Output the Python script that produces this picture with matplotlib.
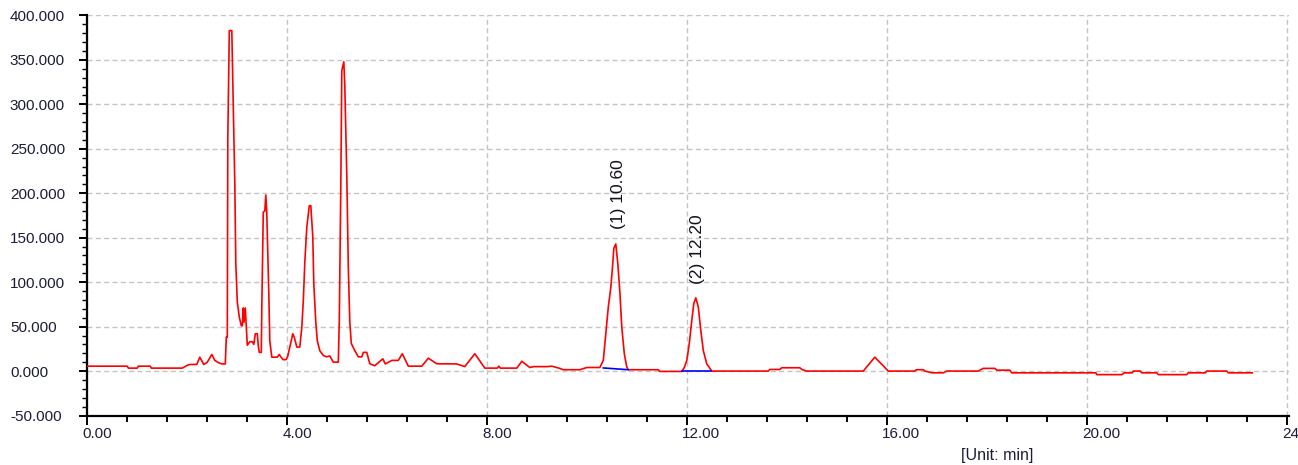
import matplotlib
matplotlib.use("Agg")
import matplotlib.pyplot as plt
from matplotlib.ticker import MultipleLocator, FixedLocator
from matplotlib.transforms import ScaledTranslation

# ---- data (retention time [min], signal) ----
time_min = [
    0.00, 0.80, 0.82, 1.00, 1.02, 1.26, 1.28, 1.90, 2.00, 2.05, 2.19, 2.25, 2.33, 2.40, 2.49, 2.55,
    2.62, 2.69, 2.76, 2.78, 2.80, 2.81, 2.84, 2.89, 2.91, 2.95, 2.97, 3.00, 3.04, 3.08, 3.10, 3.12,
    3.135, 3.16, 3.18, 3.20, 3.25, 3.30, 3.33, 3.36, 3.40, 3.42, 3.44, 3.48, 3.49, 3.52, 3.55, 3.57,
    3.59, 3.63, 3.65, 3.69, 3.80, 3.84, 3.87, 3.92, 3.98, 4.01, 4.05, 4.11, 4.14, 4.19, 4.25, 4.29,
    4.32, 4.35, 4.39, 4.44, 4.47, 4.51, 4.53, 4.57, 4.60, 4.65, 4.72, 4.79, 4.85, 4.92, 5.02, 5.04,
    5.07, 5.09, 5.13, 5.15, 5.19, 5.22, 5.25, 5.28, 5.35, 5.42, 5.49, 5.52, 5.59, 5.65, 5.75, 5.91,
    5.96, 6.09, 6.22, 6.30, 6.42, 6.69, 6.82, 6.99, 7.39, 7.55, 7.75, 7.95, 8.20, 8.23, 8.26, 8.59,
    8.69, 8.85, 8.93, 9.20, 9.29, 9.45, 9.52, 9.85, 9.99, 10.25, 10.32, 10.37, 10.42, 10.47, 10.51, 10.53,
    10.57, 10.61, 10.65, 10.69, 10.74, 10.79, 10.82, 11.42, 11.45, 11.89, 11.94, 11.99, 12.04, 12.09, 12.13, 12.17,
    12.22, 12.27, 12.32, 12.39, 12.49, 13.62, 13.65, 13.85, 13.89, 14.25, 14.30, 14.39, 15.52, 15.75, 16.02, 16.55,
    16.58, 16.72, 16.75, 16.90, 17.12, 17.19, 17.82, 17.92, 18.15, 18.19, 18.45, 18.49, 20.17, 20.19, 20.69, 20.74,
    20.90, 20.92, 21.06, 21.09, 21.39, 21.42, 21.99, 22.02, 22.36, 22.39, 22.79, 22.82, 23.30,
]
signal = [
    5.5, 5.5, 3.3, 3.3, 5.5, 5.5, 3.3, 3.3, 6.5, 7.4, 7.5, 15.6, 7.4, 10.0, 18.7, 12.0,
    9.5, 8.0, 8.0, 38.0, 38.0, 261.0, 383.0, 383.0, 327.0, 211.0, 121.0, 77.5, 60.7, 51.0, 51.0, 71.0,
    55.0, 71.0, 50.0, 29.0, 33.0, 33.0, 30.0, 42.0, 42.0, 28.0, 21.0, 21.0, 72.0, 179.0, 180.0, 198.0,
    177.0, 87.0, 34.0, 15.6, 15.6, 18.7, 16.0, 12.7, 13.0, 17.0, 27.0, 42.0, 38.0, 27.0, 27.0, 49.0,
    79.0, 122.0, 162.0, 186.0, 186.0, 151.0, 98.0, 55.0, 34.0, 23.0, 17.5, 16.0, 17.0, 10.0, 10.0, 57.0,
    207.0, 338.0, 348.0, 321.0, 220.0, 117.0, 55.0, 31.0, 23.0, 16.0, 16.0, 21.0, 21.0, 8.2, 6.0, 13.8,
    8.0, 12.0, 12.0, 19.5, 5.5, 5.5, 14.5, 8.2, 8.0, 5.0, 19.5, 3.3, 3.3, 5.5, 3.3, 3.3,
    11.0, 4.0, 5.0, 5.0, 5.5, 3.0, 1.5, 1.5, 4.0, 4.0, 12.0, 42.0, 72.0, 94.0, 121.0, 138.0,
    143.0, 121.0, 90.0, 49.0, 19.5, 4.4, 1.5, 1.5, -0.4, -0.4, 4.0, 12.0, 31.0, 57.0, 76.0, 82.4,
    72.0, 45.7, 23.0, 8.0, 0.0, 0.0, 1.8, 1.8, 3.7, 3.7, 1.5, 0.0, 0.0, 15.6, 0.0, 0.0,
    1.5, 1.5, 0.0, -2.0, -2.0, 0.0, 0.0, 3.0, 3.0, 1.0, 1.0, -2.0, -2.0, -4.0, -4.0, -2.0,
    -2.0, 0.0, 0.0, -2.0, -2.0, -4.0, -4.0, -2.0, -2.0, 0.0, 0.0, -2.0, -2.0,
]

# integration baselines (blue)
base1_t = [10.32, 10.82]
base1_v = [3.5, 1.5]
base2_t = [11.90, 12.48]
base2_v = [-0.2, -0.2]

# peak labels
peak_labels = ["(1) 10.60", "(2) 12.20"]
peak_label_t = [10.63, 12.21]
peak_label_v = [160, 98]

x_ticks = [0, 4, 8, 12, 16, 20, 24]
x_tick_labels = ["0.00", "4.00", "8.00", "12.00", "16.00", "20.00", "24.00"]
y_ticks = [-50, 0, 50, 100, 150, 200, 250, 300, 350, 400]
y_tick_labels = ["-50.000", "0.000", "50.000", "100.000", "150.000", "200.000",
                 "250.000", "300.000", "350.000", "400.000"]

plt.rcParams['font.family'] = ['Liberation Sans', 'DejaVu Sans']
DPI = 100
fig = plt.figure(figsize=(12.98, 4.65), dpi=DPI, facecolor='white')
ax = fig.add_axes([87.3 / 1298, 49.5 / 465, 1202 / 1298, 400 / 465])
ax.set_facecolor('white')

ax.plot(time_min, signal, color='#ff0000', lw=1.2, zorder=3)
ax.plot(base1_t, base1_v, color='#0000ff', lw=1.2, zorder=4)
ax.plot(base2_t, base2_v, color='#0000ff', lw=1.2, zorder=4)

for txt, tx, ty in zip(peak_labels, peak_label_t, peak_label_v):
    ax.text(tx, ty, txt, rotation=90, ha='center', va='bottom', fontsize=12.5,
            color='#101020', zorder=5)

ax.set_xlim(0, 24.04)
ax.set_ylim(-50, 400)

ax.xaxis.set_major_locator(FixedLocator(x_ticks))
ax.set_xticklabels(x_tick_labels)
ax.xaxis.set_minor_locator(MultipleLocator(0.8))
ax.yaxis.set_major_locator(FixedLocator(y_ticks))
ax.set_yticklabels(y_tick_labels)
ax.yaxis.set_minor_locator(MultipleLocator(10))

ax.grid(True, which='major', color='#c4c4c4', lw=1.0, linestyle=(0, (3.6, 2.4)), zorder=1)

for s in ['top', 'right']:
    ax.spines[s].set_visible(False)
for s in ['left', 'bottom']:
    ax.spines[s].set_linewidth(1.6)
    ax.spines[s].set_color('#000000')

tick_color = '#1c1c3a'
ax.tick_params(axis='x', which='major', direction='out', length=6.5, width=1.4,
               labelsize=11, labelcolor=tick_color, pad=1.5)
ax.tick_params(axis='x', which='minor', direction='out', length=4.3, width=1.4)
ax.tick_params(axis='y', which='major', direction='out', length=5.8, width=1.4,
               labelsize=11, labelcolor=tick_color, pad=49.9)
ax.tick_params(axis='y', which='minor', direction='out', length=3.6, width=1.0)

for lab in ax.get_yticklabels():
    lab.set_horizontalalignment('left')
offset = ScaledTranslation(-5 / DPI, 0, fig.dpi_scale_trans)
for lab in ax.get_xticklabels():
    lab.set_horizontalalignment('left')
    lab.set_transform(lab.get_transform() + offset)

fig.text(997 / 1298, 1 - 455 / 465, "[Unit: min]", ha='center', va='center',
         fontsize=11.5, color=tick_color)

fig.savefig("out.png", dpi=DPI, facecolor='white')
